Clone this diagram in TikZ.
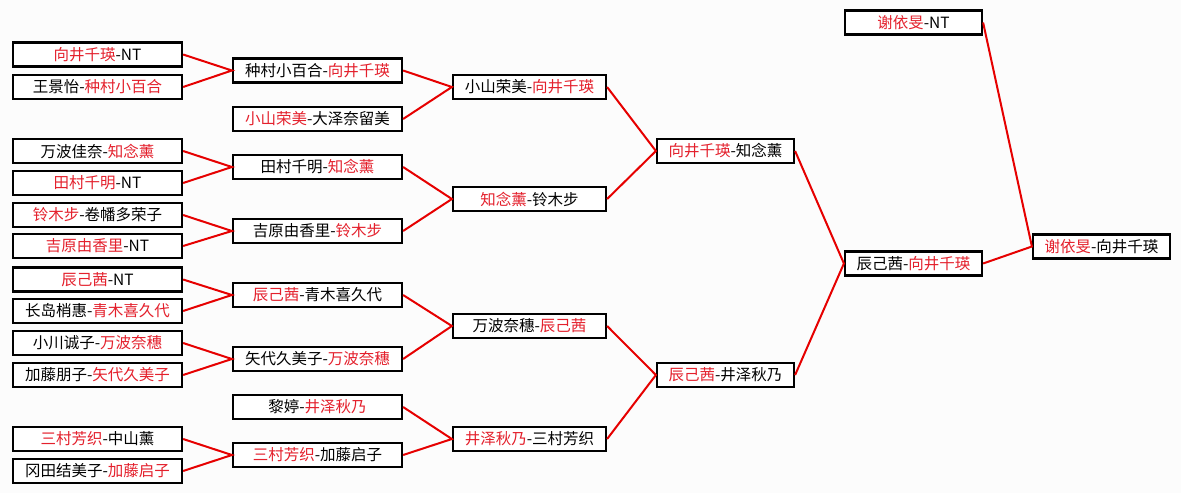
\documentclass[tikz,border=0pt]{standalone}
\usepackage{fontspec}
\setmainfont{Noto Sans CJK SC}
\definecolor{winRed}{RGB}{228,32,44}
\definecolor{lineRed}{RGB}{230,0,0}
\definecolor{paperGray}{RGB}{252,252,252}
\newcommand{\win}[1]{\textcolor{winRed}{#1}}

\begin{document}
\begin{tikzpicture}[x=1pt, y=-1pt,
    box/.style={draw, fill=white, line width=2.2pt, minimum height=24pt, inner sep=0pt, font=\fontsize{15.5}{16}\selectfont},
    wideBox/.style={box, minimum width=169pt},
    midBox/.style={box, minimum width=153pt},
    slimBox/.style={box, minimum width=137pt},
    link/.style={lineRed, line width=2pt}]
        \fill[paperGray] (0,0) rectangle (1181,493);
        \useasboundingbox (0,0) rectangle (1181,493);
        % first round
        \node[wideBox] (a1) at (97.5,54.5) {\win{向井千瑛}-NT};
        \node[wideBox] (a2) at (97.5,87) {王景怡-\win{种村小百合}};
        \node[wideBox] (a3) at (97.5,151) {万波佳奈-\win{知念薰}};
        \node[wideBox] (a4) at (97.5,183) {\win{田村千明}-NT};
        \node[wideBox] (a5) at (97.5,215) {\win{铃木步}-卷幡多荣子};
        \node[wideBox] (a6) at (97.5,246) {\win{吉原由香里}-NT};
        \node[wideBox] (a7) at (97.5,279.5) {\win{辰己茜}-NT};
        \node[wideBox] (a8) at (97.5,311) {长岛梢惠-\win{青木喜久代}};
        \node[wideBox] (a9) at (97.5,343) {小川诚子-\win{万波奈穗}};
        \node[wideBox] (a10) at (97.5,375) {加藤朋子-\win{矢代久美子}};
        \node[wideBox] (a11) at (97.5,439) {\win{三村芳织}-中山薰};
        \node[wideBox] (a12) at (97.5,471) {冈田结美子-\win{加藤启子}};
        % second round
        \node[wideBox] (b1) at (317.5,70.5) {种村小百合-\win{向井千瑛}};
        \node[wideBox] (b2) at (317.5,119) {\win{小山荣美}-大泽奈留美};
        \node[wideBox] (b3) at (317.5,167) {田村千明-\win{知念薰}};
        \node[wideBox] (b4) at (317.5,231) {吉原由香里-\win{铃木步}};
        \node[wideBox] (b5) at (317.5,295) {\win{辰己茜}-青木喜久代};
        \node[wideBox] (b6) at (317.5,359) {矢代久美子-\win{万波奈穗}};
        \node[wideBox] (b7) at (317.5,407) {黎婷-\win{井泽秋乃}};
        \node[wideBox] (b8) at (317.5,455) {\win{三村芳织}-加藤启子};
        % third round
        \node[midBox] (c1) at (529.5,87) {小山荣美-\win{向井千瑛}};
        \node[midBox] (c2) at (529.5,199) {\win{知念薰}-铃木步};
        \node[midBox] (c3) at (529.5,326) {万波奈穗-\win{辰己茜}};
        \node[midBox] (c4) at (529.5,439) {\win{井泽秋乃}-三村芳织};
        % quarter and semi
        \node[slimBox] (d1) at (725.5,151) {\win{向井千瑛}-知念薰};
        \node[slimBox] (d2) at (725.5,375) {\win{辰己茜}-井泽秋乃};
        \node[slimBox] (e0) at (913.5,22.5) {\win{谢依旻}-NT};
        \node[slimBox] (e1) at (913.5,263.5) {辰己茜-\win{向井千瑛}};
        \node[slimBox] (f1) at (1101.5,246.5) {\win{谢依旻}-向井千瑛};
        % links
        \draw[link] (a1.east) -- (b1.west) -- (a2.east);
        \draw[link] (a3.east) -- (b3.west) -- (a4.east);
        \draw[link] (a5.east) -- (b4.west) -- (a6.east);
        \draw[link] (a7.east) -- (b5.west) -- (a8.east);
        \draw[link] (a9.east) -- (b6.west) -- (a10.east);
        \draw[link] (a11.east) -- (b8.west) -- (a12.east);
        \draw[link] (b1.east) -- (c1.west) -- (b2.east);
        \draw[link] (b3.east) -- (c2.west) -- (b4.east);
        \draw[link] (b5.east) -- (c3.west) -- (b6.east);
        \draw[link] (b7.east) -- (c4.west) -- (b8.east);
        \draw[link] (c1.east) -- (d1.west) -- (c2.east);
        \draw[link] (c3.east) -- (d2.west) -- (c4.east);
        \draw[link] (d1.east) -- (e1.west) -- (d2.east);
        \draw[link] (e0.east) -- (f1.west) -- (e1.east);
      \end{tikzpicture}
\end{document}
